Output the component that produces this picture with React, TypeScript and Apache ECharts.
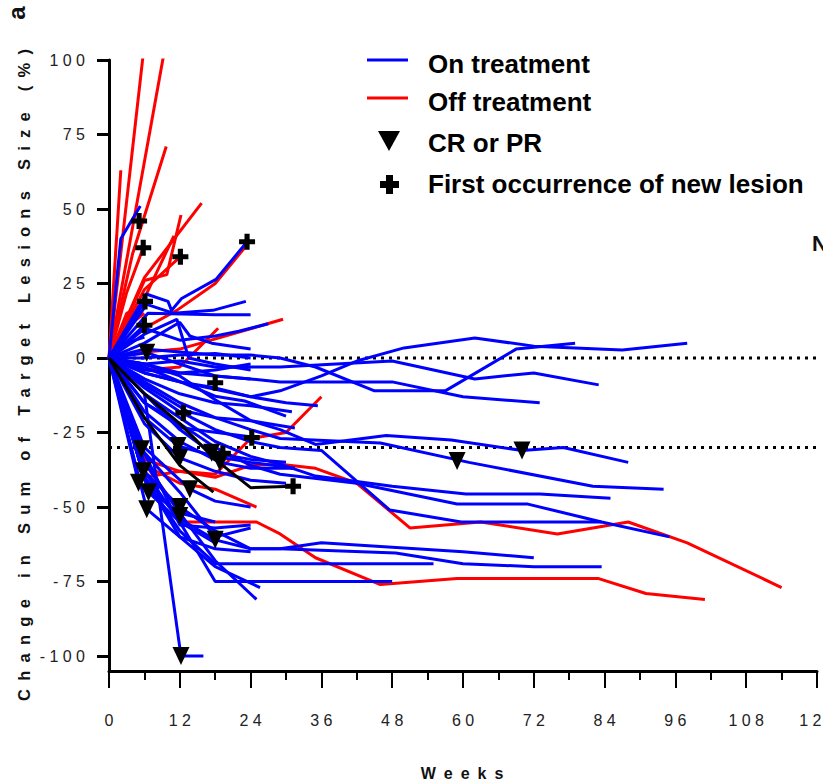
import React, { useEffect, useRef } from "react";
import * as echarts from "echarts";

type Pt = [number, number];

const xTicks = [0, 12, 24, 36, 48, 60, 72, 84, 96, 108, 120];
const yTicks = [-100, -75, -50, -25, 0, 25, 50, 75, 100];
const referenceLevels = [0, -30];

const onTreatmentLines: Pt[][] = [
  [[0, 0], [2, 40], [5.3, 51]],
  [[0, 0], [6.3, 21.5], [10, 19], [10.6, 16], [12.3, 20], [18.2, 26.5], [23.4, 39]],
  [[0, 0], [6.6, 15], [18, 14.5], [24, 14.5]],
  [[0, 0], [6.4, 18], [11, 15], [17.6, 16], [23.2, 19]],
  [[0, 0], [6, 10], [12, 6], [18, 7.4], [22, 9], [27, 11.5]],
  [[0, 0], [6, 5], [12, 12], [13.7, 7.4], [17.4, 5], [24, 3]],
  [[0, 0], [6, 8], [11.5, 13], [13.5, 0], [18, -2], [24, -4]],
  [[0, 0], [6.1, 19]],
  [[0, 0], [6, 11]],
  [[0, 0], [6.4, 1.8], [12, -2], [18, -6], [24, -7]],
  [[0, 0], [6, -5], [12, -8], [18, -10], [24, -13], [29, -11], [36, -6], [42, -1], [50, 3.4], [62, 6.7], [72, 4], [87, 2.7], [98, 5]],
  [[0, 0], [6, 3], [12, 2], [18, 1], [24, 1], [29, 0], [35, -3], [45, -11], [57, -11], [69, 3], [79, 5]],
  [[0, 0], [6, -2], [12, -1], [18, -3], [24, -3], [29, -3], [48, -1], [62, -7], [72, -5], [83, -9]],
  [[0, 0], [6, -4], [12, -5], [24, -7], [29, -8], [48, -8], [60, -13], [73, -15]],
  [[0, 0], [6, -2], [12, -6], [18, -14], [24, -21], [29, -24], [35, -29], [47, -26], [58, -27.5], [70, -31], [77, -30], [88, -35]],
  [[0, 0], [6, -8], [12, -15], [18, -20], [24, -24], [29, -27], [46, -28.5], [61, -35], [82, -43], [94, -44]],
  [[0, 0], [6, -12], [12, -20], [18, -28], [24, -33], [29, -35.6], [35, -39.6], [48, -43], [60.5, -45.6], [73, -45.6], [85, -47]],
  [[0, 0], [6, -15], [12, -22], [18, -30], [24, -36], [29, -39], [42, -42], [59, -49], [71, -49], [83.5, -55], [95, -60]],
  [[0, 0], [6, -10], [12, -18], [18, -24], [24, -28], [29, -30], [36, -31], [47.6, -51], [59.7, -55], [83.5, -55]],
  [[0, 0], [6, -40], [12, -54], [18, -61], [24, -64], [29, -64], [36, -62], [60, -65], [72, -67]],
  [[0, 0], [6, -38], [12, -50], [18, -58], [24, -64], [29, -64], [48.6, -65.4], [60, -69], [72, -70], [83.5, -70]],
  [[0, 0], [6, -40], [12, -58], [18, -69], [55, -69]],
  [[0, 0], [6, -38], [12, -55], [18, -75], [48, -75]],
  [[0, 0], [6, -35], [12, -52], [18, -68], [25, -81]],
  [[0, 0], [6, -40], [12, -60], [18, -70], [25.6, -77]],
  [[0, 0], [6, -12], [12.2, -100], [16, -100]],
  [[0, 0], [6, -3], [18, -12.8], [23, -14.4], [30, -19.5]],
  [[0, 0], [6, -5], [12, -8], [24, -13], [30, -15], [35.4, -16]],
  [[0, 0], [6, -9], [13.4, -18], [18, -20], [24, -21], [31.5, -23.5]],
  [[0, 0], [6, -15], [12.3, -23.4], [16.3, -24.5], [24.2, -26.5]],
  [[0, 0], [6, -20], [11.7, -29.5], [18, -33], [24, -35], [31.5, -37]],
  [[0, 0], [6, -22], [12, -33.5], [18, -38], [24, -41], [30, -42]],
  [[0, 0], [6, -30], [13.7, -44], [18, -48], [24, -50]],
  [[0, 0], [6, -32], [12, -56], [18, -57], [24, -56]],
  [[0, 0], [5.5, -30.6], [12, -45], [18, -60], [24, -57]],
  [[0, 0], [6.4, -50.7], [12, -60], [18, -64], [24, -65]],
  [[0, 0], [6.7, -45], [12, -55], [18, -62]],
  [[0, 0], [6, -12], [12, -24], [17.4, -31.8], [24, -34], [30, -35]],
  [[0, 0], [6, -18], [12, -28], [18.8, -35], [24, -37], [31.5, -37]],
  [[0, 0], [5, -41.8], [12, -52], [18, -55]],
  [[0, 0], [6, 0], [12, 1], [18, 1.5], [24, 0]],
  [[0, 0], [6, -2], [12, -5], [18, -4], [24, -2]],
  [[0, 0], [3, 5], [6, 7]],
  [[0, 0], [6, -7], [12, -12], [18, -15], [24, -16], [31, -18]],
];

const offTreatmentLines: Pt[][] = [
  [[0, 0], [2, 63]],
  [[0, 0], [5.8, 102]],
  [[0, 0], [9.2, 101]],
  [[0, 0], [4, 35], [9.7, 71]],
  [[0, 0], [6, 27], [15.7, 52]],
  [[0, 0], [6, 26], [9.8, 28], [12.2, 48]],
  [[0, 0], [6, 20], [11, 41]],
  [[0, 0], [6, 23], [12.1, 34]],
  [[0, 0], [3, 22], [5.8, 37]],
  [[0, 0], [6, 10], [11.5, 16], [18, 25], [23.4, 38]],
  [[0, 0], [6, 2], [12, 3], [18.5, 6.7], [26, 11], [29.5, 13]],
  [[0, 0], [6, -4], [12, -3], [18.5, 10]],
  [[0, 0], [6, -40], [12, -38], [18, -39], [24, -27], [30, -25], [36, -13]],
  [[0, 0], [6, -36], [12, -42], [18, -44], [25, -50]],
  [[0, 0], [6, -34], [12, -38], [18, -40], [24, -36], [29, -35.6], [35, -37], [42, -42], [51, -57], [63, -55], [76, -59], [88, -55], [98, -62], [114, -77]],
  [[0, 0], [6, -35], [12, -52], [13, -55], [25, -55], [29, -59], [35, -67], [46, -76], [59, -74], [83, -74], [91, -79], [101, -81]],
  [[0, 0], [4, 12], [6, 15]],
  [[0, 0], [3, 15], [6, 18]],
];

const otherLines: Pt[][] = [
  [[0, 0], [6, -12], [12, -22], [18, -34], [24, -43.5], [31.2, -43]],
  [[0, 0], [6, -20], [12, -36], [17.7, -45]],
];

const crOrPrPoints: Pt[] = [
  [5.5, -30.6], [5.8, -38], [5, -41.8], [6.7, -45], [6.4, -50.7], [11.7, -29.5], [12, -33.5],
  [13.7, -44], [12, -50], [12, -53], [17.4, -31.8], [18.8, -35], [18, -61], [12.2, -100],
  [59, -34.5], [70, -31], [6.4, 1.8],
];

const newLesionPoints: Pt[] = [
  [5.1, 46], [5.8, 37], [12.1, 34], [23.4, 39], [6.1, 19], [6, 11], [18, -8.3],
  [12.6, -18.4], [24.2, -26.7], [31.2, -43], [19.3, -32],
];

const legendLabels = ["On treatment", "Off treatment", "CR or PR", "First occurrence of new lesion"];
const yTitleWords = ["Change", "in", "Sum", "of", "Target", "Lesions", "Size", "(%)"];
const xTitle = "Weeks";

const EN = "\u2002";
const spaced = (s: string, sep = " ") => s.split("").join(sep);
const PLUS = "path://M34,0H66V34H100V66H66V100H34V66H0V34H34Z";
const FONT = "'Liberation Sans', Arial, Helvetica, sans-serif";

export default function App() {
  const ref = useRef<HTMLDivElement>(null);
  useEffect(() => {
    const chart = echarts.init(ref.current!, null, { renderer: "svg" });
    const mkLines = (lines: Pt[][], color: string, name: string) =>
      lines.map((d) => ({
        type: "line",
        name,
        data: d,
        showSymbol: false,
        symbol: "none",
        clip: true,
        silent: true,
        lineStyle: { color, width: 3 },
        itemStyle: { color },
      }));
    const refSeries = referenceLevels.map((lv) => ({
      type: "line",
      data: [[xTicks[0], lv], [xTicks[xTicks.length - 1], lv]],
      showSymbol: false,
      symbol: "none",
      silent: true,
      lineStyle: { color: "#000", width: 3, type: [3, 5] },
    }));
    const yTitle = yTitleWords.map((w) => spaced(w, EN)).join(EN + " " + EN);
    const legendTop = [60, 98, 141, 184];
    const legendText = [64, 102, 143, 184];
    const option: any = {
      animation: false,
      backgroundColor: "#fff",
      grid: { left: 109, right: 6, top: 60, bottom: 113, containLabel: false, outerBoundsMode: "none" },
      xAxis: {
        type: "value",
        min: 0,
        max: 120,
        interval: 12,
        axisLine: { show: true, onZero: false, lineStyle: { color: "#000", width: 3 } },
        axisTick: { show: true, length: 17, lineStyle: { color: "#000", width: 2 } },
        minorTick: { show: true, splitNumber: 2, length: 9, lineStyle: { color: "#000", width: 2 } },
        axisLabel: {
          margin: 41,
          fontSize: 16,
          color: "#222",
          fontFamily: FONT,
          hideOverlap: false,
          formatter: (v: number) => spaced(String(v)),
        },
        splitLine: { show: false },
        minorSplitLine: { show: false },
      },
      yAxis: {
        type: "value",
        min: -105,
        max: 100,
        axisLine: { show: true, onZero: false, lineStyle: { color: "#000", width: 3 } },
        axisTick: { show: true, customValues: yTicks, length: 12, lineStyle: { color: "#000", width: 3 } },
        axisLabel: {
          customValues: yTicks,
          margin: 24,
          fontSize: 16,
          color: "#222",
          fontFamily: FONT,
          formatter: (v: number) => spaced(String(v)),
        },
        splitLine: { show: false },
      },
      series: [
        ...refSeries,
        ...mkLines(offTreatmentLines, "#ff0000", legendLabels[1]),
        ...mkLines(onTreatmentLines, "#0000ff", legendLabels[0]),
        ...mkLines(otherLines, "#000000", "Other"),
        {
          type: "scatter",
          name: legendLabels[2],
          data: crOrPrPoints,
          symbol: "triangle",
          symbolRotate: 180,
          symbolSize: [17, 18],
          itemStyle: { color: "#000", opacity: 1 },
          silent: true,
          z: 5,
        },
        {
          type: "scatter",
          name: legendLabels[3],
          data: newLesionPoints,
          symbol: PLUS,
          symbolSize: 16,
          itemStyle: { color: "#000", opacity: 1 },
          silent: true,
          z: 5,
        },
      ],
      graphic: [
        {
          type: "text",
          x: 24,
          y: 375,
          rotation: Math.PI / 2,
          style: { text: yTitle, font: `bold 16.5px ${FONT}`, fill: "#111", align: "center", verticalAlign: "middle" },
        },
        {
          type: "text",
          x: 16,
          y: 13,
          rotation: Math.PI / 2,
          style: { text: "a", font: `bold 24px ${FONT}`, fill: "#111", align: "center", verticalAlign: "middle" },
        },
        {
          type: "text",
          x: 462,
          y: 773,
          style: { text: spaced(xTitle, EN), font: `bold 16px ${FONT}`, fill: "#111", align: "center", verticalAlign: "middle" },
        },
        {
          type: "text",
          x: 812,
          y: 243,
          style: { text: "N", font: `bold 22px ${FONT}`, fill: "#111", align: "left", verticalAlign: "middle" },
        },
        { type: "line", shape: { x1: 367, y1: legendTop[0], x2: 408, y2: legendTop[0] }, style: { stroke: "#0000ff", lineWidth: 3 } },
        { type: "line", shape: { x1: 367, y1: legendTop[1], x2: 408, y2: legendTop[1] }, style: { stroke: "#ff0000", lineWidth: 3 } },
        { type: "polygon", shape: { points: [[378, 131], [400, 131], [389, 151]] }, style: { fill: "#000" } },
        {
          type: "polygon",
          shape: {
            points: [[386, 175], [393, 175], [393, 181], [399, 181], [399, 188], [393, 188], [393, 194], [386, 194], [386, 188], [380, 188], [380, 181], [386, 181]],
          },
          style: { fill: "#000" },
        },
        ...legendLabels.map((t, i) => ({
          type: "text",
          x: 428,
          y: legendText[i],
          style: { text: t, font: `bold 26px ${FONT}`, fill: "#000", align: "left", verticalAlign: "middle" },
        })),
      ],
    };
    chart.setOption(option);
    return () => chart.dispose();
  }, []);
  return <div ref={ref} style={{ position: "fixed", left: 0, top: 0, width: 823, height: 784, background: "#fff" }} />;
}
